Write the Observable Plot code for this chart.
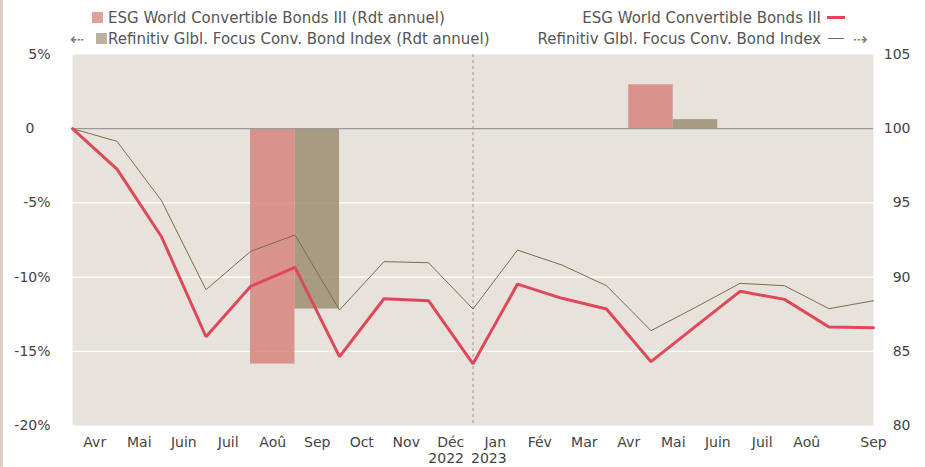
<!DOCTYPE html>
<html>
<head>
<meta charset="utf-8">
<script src="https://cdn.jsdelivr.net/npm/d3@7"></script>
<script src="https://cdn.jsdelivr.net/npm/@observablehq/plot@0.6"></script>
<style>
  html, body { margin: 0; padding: 0; background: #fff; }
  #wrap { position: relative; width: 925px; height: 467px; overflow: hidden; font-family: "DejaVu Sans", Verdana, sans-serif; }
  #strip { position: absolute; left: 0; top: 0; width: 3px; height: 467px; background: #d9d0c9; }
  .lg { position: absolute; font-size: 15px; line-height: 16px; color: #555; white-space: nowrap; }
  .sq { position: absolute; width: 11px; height: 11px; }
  .ln { position: absolute; }
  #chart { position: absolute; left: 0; top: 0; }
</style>
</head>
<body>
<div id="wrap">
  <div id="chart"></div>
  <div id="strip"></div>
  <div class="sq" style="left:92px; top:12px; background:#e0a19b;"></div>
  <div class="lg" style="left:108px; top:10px;">ESG World Convertible Bonds III (Rdt annuel)</div>
  <div class="lg" style="left:70px; top:31px; color:#777; font-size:17px;">⇠</div>
  <div class="sq" style="left:96px; top:33px; background:#bcb19e;"></div>
  <div class="lg" style="left:108px; top:31px;">Refinitiv Glbl. Focus Conv. Bond Index (Rdt annuel)</div>
  <div class="lg" style="right:104px; top:10px;">ESG World Convertible Bonds III</div>
  <div class="ln" style="left:827px; top:16px; width:18px; height:3px; background:#e0485a;"></div>
  <div class="lg" style="right:104px; top:31px;">Refinitiv Glbl. Focus Conv. Bond Index</div>
  <div class="ln" style="left:828px; top:38px; width:16px; height:1px; background:#7d6b4f;"></div>
  <div class="lg" style="left:853px; top:31px; color:#8a7a5e; font-size:17px;">⇢</div>
</div>
<script>
// Month labels (x axis), Apr 2022 -> Sep 2023
const months = ["Avr","Mai","Juin","Juil","Aoû","Sep","Oct","Nov","Déc","Jan","Fév","Mar","Avr","Mai","Juin","Juil","Aoû","Sep"];
const yearLabels = ["2022", "2023"];

// Index series (base 100), month-end points
const esgIndex = [100, 97.28, 92.72, 85.98, 89.37, 90.65, 84.64, 88.54, 88.41, 84.16, 89.53, 88.57, 87.85, 84.3, 86.68, 89.04, 88.5, 86.64, 86.59];
const refIndex = [100, 99.15, 95.15, 89.15, 91.73, 92.84, 87.78, 91.04, 90.97, 87.85, 91.82, 90.81, 89.42, 86.39, 87.96, 89.58, 89.42, 87.87, 88.41];

// Annual returns (%)
const years = ["2022", "2023"];
const esgAnnual = [-15.86, 2.96];
const refAnnual = [-12.15, 0.61];

// Tick values
const pctTicks = [-20, -15, -10, -5, 5];
const gridTicks = [-15, -10, -5];

// Layout helpers (not data)
const barCenter = {"2022": 5, "2023": 13.5};
const yearBoundary = months.indexOf("Jan");

const bars = [];
years.forEach((y, i) => {
  bars.push({year: y, series: "esg", value: esgAnnual[i], x1: barCenter[y] - 1, x2: barCenter[y]});
  bars.push({year: y, series: "ref", value: refAnnual[i], x1: barCenter[y], x2: barCenter[y] + 1});
});

const chart = Plot.plot({
  width: 925,
  height: 467,
  marginLeft: 72,
  marginRight: 52,
  marginTop: 54,
  marginBottom: 42,
  x: {domain: [0, months.length], axis: null},
  y: {domain: [-20, 5], label: null},
  style: {fontFamily: "DejaVu Sans, Verdana, sans-serif", fontSize: "14px", color: "#444", background: "transparent", overflow: "visible"},
  marks: [
    Plot.frame({fill: "#e7e2db", stroke: "none"}),
    Plot.ruleY(gridTicks, {stroke: "#ffffff", strokeWidth: 1.2}),
    Plot.rectY(bars, {
      x1: "x1", x2: "x2", y1: 0, y2: "value",
      fill: d => d.series === "esg" ? "#d6857e" : "#9d8d72",
      fillOpacity: 0.85
    }),
    Plot.ruleY([0], {stroke: "#9a9a9a", strokeWidth: 1.2}),
    Plot.ruleX([yearBoundary], {stroke: "#999", strokeDasharray: "3,3", strokeWidth: 1}),
    Plot.line(refIndex, {x: (d, i) => i, y: d => d - 100, stroke: "#7d6b4f", strokeWidth: 1, strokeLinejoin: "miter"}),
    Plot.line(esgIndex, {x: (d, i) => i, y: d => d - 100, stroke: "#e0485a", strokeWidth: 3, strokeLinejoin: "miter"}),
    // left axis
    Plot.axisY({anchor: "left", label: null, ticks: pctTicks, tickFormat: d => d + "%", tickSize: 0, tickPadding: 22, fill: "#444"}),
    Plot.axisY({anchor: "left", label: null, ticks: [0], tickFormat: d => "0", tickSize: 0, tickPadding: 38, fill: "#444"}),
    // right axis (index = 100 + %)
    Plot.axisY({anchor: "right", label: null, ticks: [...pctTicks, 0], tickFormat: d => String(d + 100), tickSize: 0, tickPadding: 37, textAnchor: "end", fill: "#444"}),
    // month labels
    Plot.text(months, {
      x: (d, i) => i === months.length - 1 ? i + 1 : i + 0.5,
      text: d => d, frameAnchor: "bottom", dy: 21, fill: "#444"
    }),
    Plot.text(yearLabels.slice(0, 1), {
      x: () => yearBoundary, text: d => d, frameAnchor: "bottom", dy: 37, dx: -9, textAnchor: "end", fill: "#444"
    }),
    Plot.text(yearLabels.slice(1), {
      x: () => yearBoundary, text: d => d, frameAnchor: "bottom", dy: 37, dx: -2, textAnchor: "start", fill: "#444"
    })
  ]
});
document.getElementById("chart").appendChild(chart);
</script>
</body>
</html>
